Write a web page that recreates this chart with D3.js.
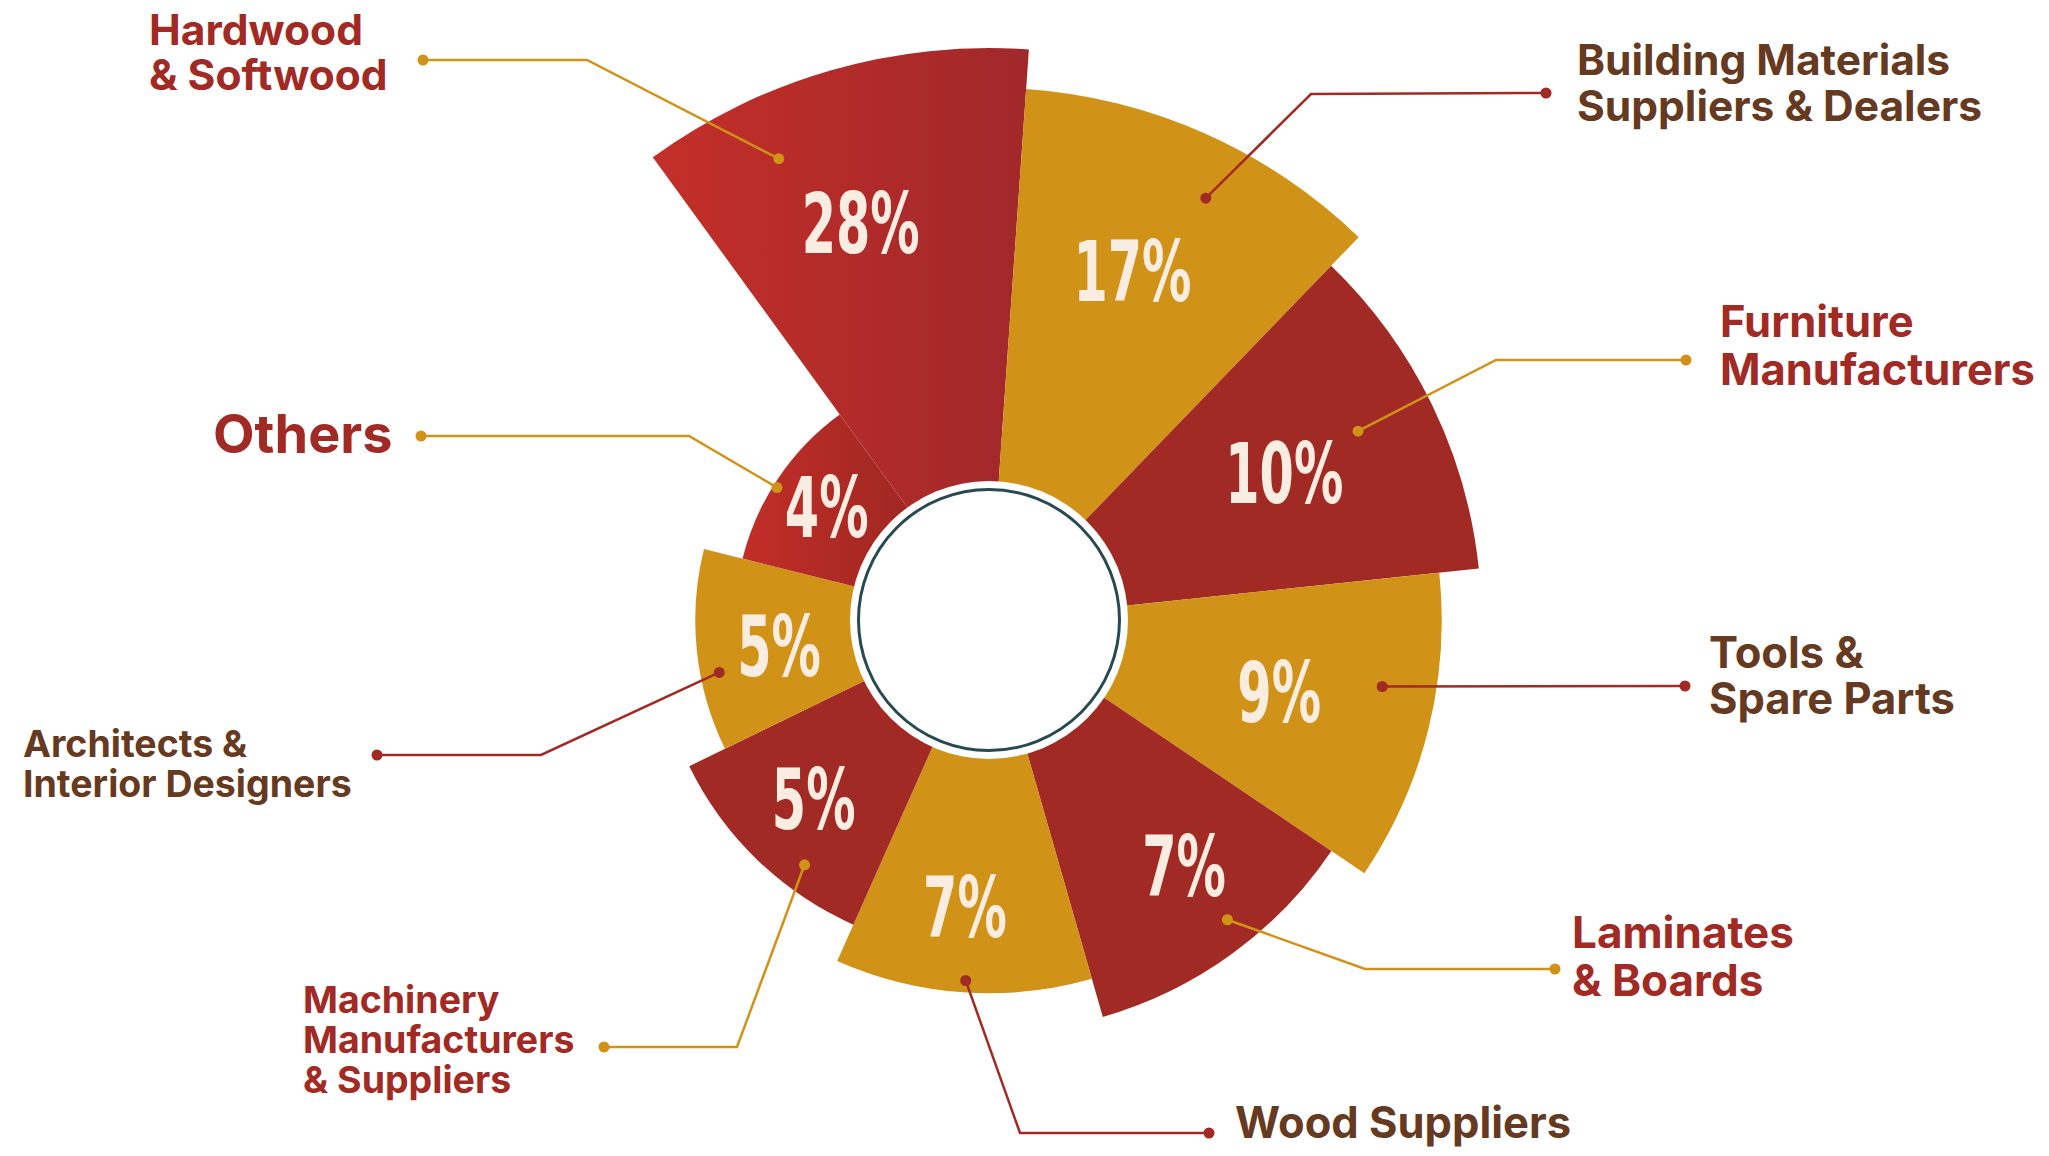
<!DOCTYPE html>
<html>
<head>
<meta charset="utf-8">
<script src="https://cdn.jsdelivr.net/npm/d3@7"></script>
<style>
  html, body { margin: 0; padding: 0; background: #fff; }
  svg { display: block; }
  .pct { font-family: "DejaVu Sans Condensed", "DejaVu Sans", sans-serif; font-stretch: condensed; font-weight: 700; }
  .lbl { font-family: Inter, Roboto, "Open Sans", sans-serif; font-weight: 700; }
</style>
</head>
<body>
<div id="chart"></div>
<script>
// data, sorted by share (the wedge radius follows the rank)
const categories = [
    "Hardwood\n& Softwood",
    "Building Materials\nSuppliers & Dealers",
    "Furniture\nManufacturers",
    "Tools &\nSpare Parts",
    "Laminates\n& Boards",
    "Wood Suppliers",
    "Machinery\nManufacturers\n& Suppliers",
    "Architects &\nInterior Designers",
    "Others"
];
const values = [28, 17, 10, 9, 7, 7, 5, 5, 4];

const width = 2049, height = 1156;
const cx = 989, cy = 620;
const RED = "#a12a24", GOLD = "#d09217", BROWN = "#653a20", CREAM = "#f9ece1";

// callout layout: dot on wedge = [angle offset deg, inset from outer radius]
const callouts = [
    { dot: [-8.5, 65], elbow: [587, 60], end: [423, 60], text: [149, 45], size: 42.5, lh: 45, pct: [-1.9, 0.73] },
    { dot: [3.2, 58], elbow: [1311, 94], end: [1546, 93], text: [1577, 75], size: 42.5, lh: 46, pct: [-1.7, 0.71] },
    { dot: [-1.1, 78], elbow: [1496, 360], end: [1686, 360], text: [1720, 337], size: 43.5, lh: 48, pct: [-0.5, 0.67] },
    { dot: [-4.4, 54], elbow: null, end: [1685, 686], text: [1709, 668], size: 43.5, lh: 46, pct: [-0.2, 0.66] },
    { dot: [-2.5, 30], elbow: [1365, 969], end: [1555, 969], text: [1572, 948], size: 44, lh: 48, pct: [-2.4, 0.76] },
    { dot: [-0.3, 12], elbow: [1020, 1133], end: [1209, 1133], text: [1235, 1138], size: 43.5, lh: 46, pct: [0.8, 0.77] },
    { dot: [-7, 27], elbow: [737, 1047], end: [604, 1047], text: [303, 1013], size: 37.5, lh: 40, pct: [0.5, 0.75] },
    { dot: [-5, 19], elbow: [541, 755], end: [377, 755], text: [23, 757], size: 37.5, lh: 40, pct: [-1, 0.72] },
    { dot: [-2, 4], elbow: [689, 436], end: [421, 436], text: [213, 453], size: 54, lh: 54, pct: [1, 0.78] }
];

const svg = d3.select("#chart").append("svg")
    .attr("width", width)
    .attr("height", height)
    .attr("viewBox", `0 0 ${width} ${height}`);

const defs = svg.append("defs");
const grads = { 0: ["#c42f29", "#a1282a"], 8: ["#c22e28", "#8f241f"] };
Object.entries(grads).forEach(([i, c]) => {
    const g = defs.append("linearGradient").attr("id", "g" + i)
        .attr("x1", 0).attr("x2", 1).attr("y1", 0).attr("y2", 0);
    g.append("stop").attr("offset", "0%").attr("stop-color", c[0]);
    g.append("stop").attr("offset", "100%").attr("stop-color", c[1]);
});

const deg = Math.PI / 180;
const start = -36 * deg;

// equal angles per category, radius by rank
const angle = d3.scaleBand().domain(d3.range(categories.length))
    .range([start, start + 2 * Math.PI]).padding(0);
const radius = d3.scalePoint().domain(d3.range(categories.length)).range([572, 254]);

const arc = d3.arc()
    .innerRadius(0)
    .outerRadius(i => radius(i))
    .startAngle(i => angle(i))
    .endAngle(i => angle(i) + angle.bandwidth());

const sliceColor = i => grads[i] ? `url(#g${i})` : (i % 2 === 0 ? RED : GOLD);
const lineColor = i => i % 2 === 0 ? GOLD : RED;
const textColor = i => i % 2 === 0 ? RED : BROWN;

const polar = (a, r) => [cx + r * Math.sin(a), cy - r * Math.cos(a)];
const mid = i => angle(i) + angle.bandwidth() / 2;

const g = svg.append("g");

// wedges
g.selectAll("path.slice")
    .data(d3.range(categories.length))
    .enter().append("path")
    .attr("class", "slice")
    .attr("transform", `translate(${cx},${cy})`)
    .attr("d", i => arc(i))
    .attr("fill", i => sliceColor(i));

// centre hole
g.append("circle").attr("cx", cx).attr("cy", cy).attr("r", 139).attr("fill", "#fff");
g.append("circle").attr("cx", cx).attr("cy", cy).attr("r", 130.5)
    .attr("fill", "none").attr("stroke", "#28494f").attr("stroke-width", 3);

// percentages (tall, narrow figures)
const pctSize = 83;
g.selectAll("text.pct")
    .data(d3.range(categories.length))
    .enter().append("text")
    .attr("class", "pct")
    .attr("transform", i => {
        const c = callouts[i];
        const p = polar(mid(i) + c.pct[0] * deg, radius(i) * c.pct[1]);
        return `translate(${p[0]},${p[1]}) scale(0.66,1)`;
    })
    .attr("y", pctSize * 0.729 / 2)
    .attr("text-anchor", "middle")
    .attr("font-size", pctSize)
    .attr("fill", CREAM)
    .text(i => values[i] + "%");

// callouts
const line = d3.line();
const co = g.selectAll("g.callout")
    .data(d3.range(categories.length))
    .enter().append("g")
    .attr("class", "callout");

co.each(function (i) {
    const c = callouts[i];
    const sel = d3.select(this);
    const p0 = polar(mid(i) + c.dot[0] * deg, radius(i) - c.dot[1]);
    const pts = c.elbow ? [p0, c.elbow, c.end] : [p0, c.end];
    sel.append("path")
        .attr("d", line(pts))
        .attr("fill", "none")
        .attr("stroke", lineColor(i))
        .attr("stroke-width", 2.5);
    [p0, c.end].forEach(p => sel.append("circle")
        .attr("cx", p[0]).attr("cy", p[1]).attr("r", 5.5)
        .attr("fill", lineColor(i)));

    const t = sel.append("text")
        .attr("class", "lbl")
        .attr("x", c.text[0])
        .attr("y", c.text[1])
        .attr("font-size", c.size)
        .attr("fill", textColor(i));
    categories[i].split("\n").forEach((s, k) => {
        t.append("tspan")
            .attr("x", c.text[0])
            .attr("dy", k === 0 ? 0 : c.lh)
            .text(s);
    });
});
</script>
</body>
</html>
